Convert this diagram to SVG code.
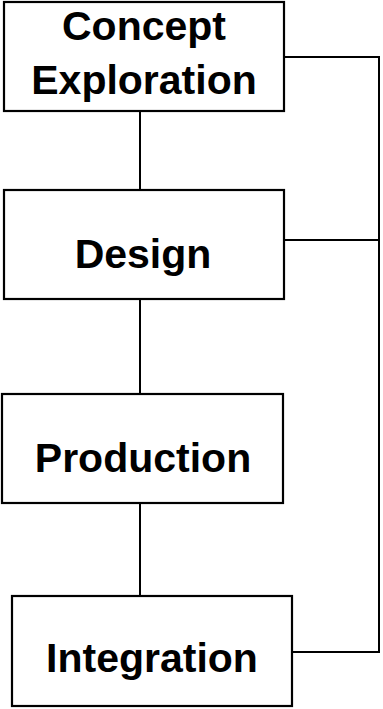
<svg xmlns="http://www.w3.org/2000/svg" width="383" height="709" viewBox="0 0 383 709">
<style>
.box{fill:#fff;stroke:#000;stroke-width:2.2}
.lbl{font-family:"Liberation Sans",Arial,sans-serif;font-weight:bold;font-size:41px;fill:#000;text-anchor:middle}
.con{fill:none;stroke:#000;stroke-width:2}
</style>
<rect width="383" height="709" fill="#fff"/>
<g id="connectors">
<path class="con" d="M140,111 V190"/>
<path class="con" d="M140,299 V394"/>
<path class="con" d="M140,503 V596"/>
<path class="con" d="M284,57 H379 V652 H292"/>
<path class="con" d="M284,240 H379"/>
</g>
<g id="concept">
<rect class="box" x="4" y="2" width="280" height="109"/>
<text class="lbl" x="144" y="40">Concept</text>
<text class="lbl" x="144" y="94">Exploration</text>
</g>
<g id="design">
<rect class="box" x="4" y="190" width="280" height="109"/>
<text class="lbl" x="143" y="268">Design</text>
</g>
<g id="production">
<rect class="box" x="2" y="394" width="281" height="109"/>
<text class="lbl" x="143" y="472">Production</text>
</g>
<g id="integration">
<rect class="box" x="12" y="596" width="280" height="110"/>
<text class="lbl" x="152" y="672">Integration</text>
</g>
</svg>
